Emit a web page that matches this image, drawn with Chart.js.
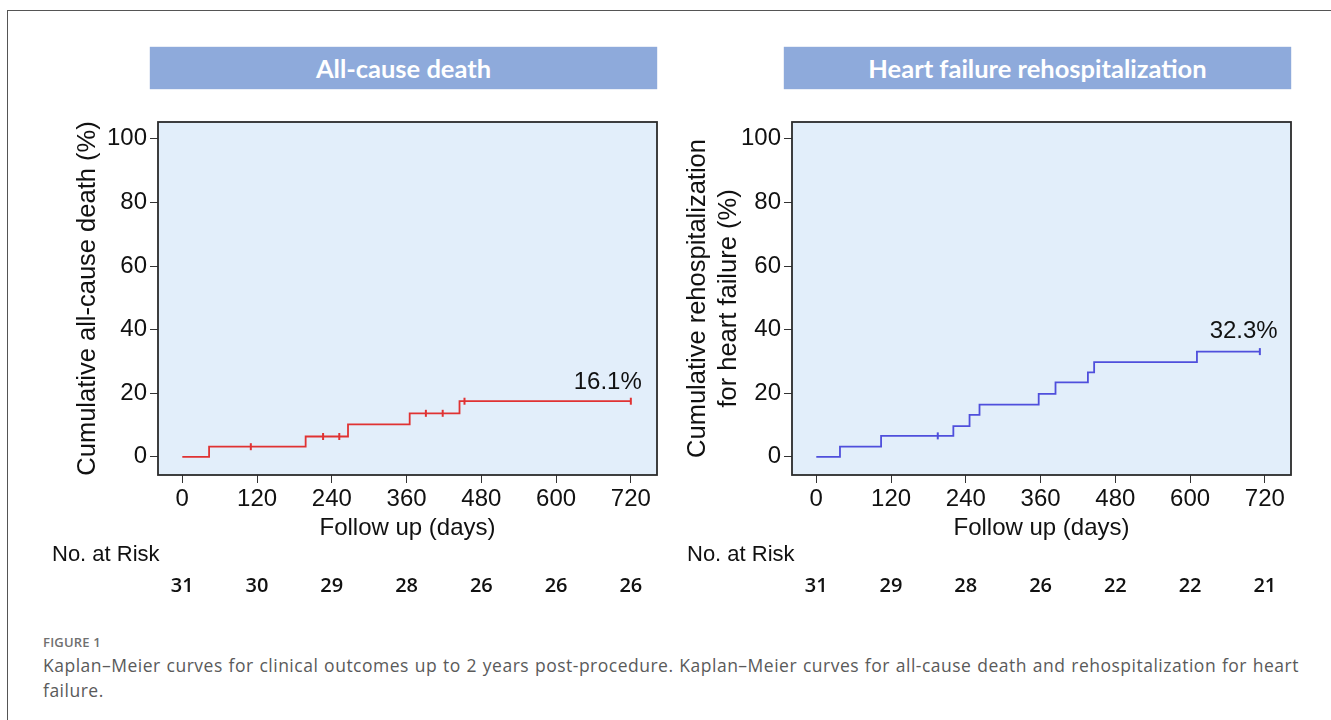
<!DOCTYPE html>
<html>
<head>
<meta charset="utf-8">
<script src="https://cdn.jsdelivr.net/npm/chart.js@4.4.1/dist/chart.umd.min.js"></script>
<style>
  body { margin: 0; width: 1331px; height: 720px; background: #fff; position: relative; overflow: hidden; font-family: "Liberation Sans", Arial, sans-serif; }
  .frame { position: absolute; left: 7px; top: 10px; width: 1400px; height: 800px; border-left: 1px solid #555; border-top: 1px solid #555; }
  .head { position: absolute; top: 47px; height: 42px; width: 507px; background: #8eaadb; color: #fff; font-family: Lato, "Open Sans", sans-serif; font-weight: bold; font-size: 25.5px; line-height: 42px; text-align: center; box-shadow: 0 0 1px #7f9ad0; }
  canvas { position: absolute; }
  .figlab { position: absolute; left: 43px; top: 633px; font-family: "Open Sans", sans-serif; font-size: 13px; font-weight: 600; color: #707070; letter-spacing: 0.2px; }
  .caption { position: absolute; left: 43px; top: 653px; width: 1256px; font-family: "Open Sans", sans-serif; font-size: 17.5px; letter-spacing: 0.5px; line-height: 25px; color: #5a5a5a; text-align: justify; }
</style>
</head>
<body>
<div class="frame"></div>
<div class="head" style="left:150px">All-cause death</div>
<div class="head" style="left:784px">Heart failure rehospitalization</div>
<div style="position:absolute;left:0;top:100px;width:665px;height:520px"><canvas id="c1"></canvas></div>
<div style="position:absolute;left:665px;top:100px;width:666px;height:520px"><canvas id="c2"></canvas></div>
<div class="figlab">FIGURE 1</div>
<div class="caption">Kaplan–Meier curves for clinical outcomes up to 2 years post-procedure. Kaplan–Meier curves for all-cause death and rehospitalization for heart failure.</div>
<script>
// tick labels
const xTicks = [0, 120, 240, 360, 480, 600, 720];
const yTicks = [0, 20, 40, 60, 80, 100];

// all-cause death (days, cumulative %)
const deathDays = [0, 43, 198, 266, 365, 445, 720];
const deathPct = [0, 3.2, 6.4, 10.2, 13.7, 17.5, 17.5];
const deathCensDays = [110, 226, 252, 391, 418, 453, 720];
const deathCensPct = [3.2, 6.4, 6.4, 13.7, 13.7, 17.5, 17.5];
const deathRisk = [31, 30, 29, 28, 26, 26, 26];

// heart failure rehospitalization
const hfDays = [0, 38, 104, 220, 246, 262, 357, 384, 436, 446, 611, 712];
const hfPct = [0, 3.2, 6.6, 9.7, 13.2, 16.4, 19.8, 23.4, 26.6, 29.8, 33.1, 33.1];
const hfCensDays = [195, 712];
const hfCensPct = [6.6, 33.1];
const hfRisk = [31, 29, 28, 26, 22, 22, 21];

const axisFont = { family: '"Liberation Sans", Arial, sans-serif', size: 24 };

function pts(xs, ys) {
    return xs.map((x, i) => ({ x: x, y: ys[i] }));
}

// fond bleu + cadre du graphique
const framePlugin = {
    id: 'frame',
    beforeDraw(chart) {
        const a = chart.chartArea, ctx = chart.ctx;
        ctx.save();
        ctx.fillStyle = '#e2eefa';
        ctx.fillRect(a.left, a.top, a.right - a.left, a.bottom - a.top);
        ctx.restore();
    },
    afterDraw(chart) {
        const a = chart.chartArea, ctx = chart.ctx;
        const o = chart.options.plugins.frame;
        ctx.save();
        ctx.strokeStyle = '#2b2b2b';
        ctx.lineWidth = 1.8;
        ctx.strokeRect(a.left, a.top, a.right - a.left, a.bottom - a.top);
        // No. at Risk
        ctx.fillStyle = '#111';
        ctx.font = '22px "Liberation Sans", Arial, sans-serif';
        ctx.textAlign = 'left';
        ctx.textBaseline = 'middle';
        ctx.fillText('No. at Risk', o.riskX, o.riskY);
        ctx.font = '600 20px "Open Sans", sans-serif';
        ctx.textAlign = 'center';
        const xs = chart.scales.x;
        o.risk.forEach((n, i) => {
            ctx.fillText(String(n), xs.getPixelForValue(xTicks[i]), o.riskY + 31);
        });
        // final percentage
        ctx.font = '24px "Liberation Sans", Arial, sans-serif';
        ctx.fillText(o.label, xs.getPixelForValue(o.labelAt[0]), chart.scales.y.getPixelForValue(o.labelAt[1]));
        ctx.restore();
    }
};

function createChart(id, opts) {
    const ctx = document.getElementById(id).getContext('2d');
    return new Chart(ctx, {
        type: 'line',
        data: {
            datasets: [{
                data: pts(opts.days, opts.pct),
                borderColor: opts.color,
                borderWidth: 1.8,
                stepped: 'before',
                pointRadius: 0,
                fill: false
            }, {
                data: pts(opts.censDays, opts.censPct),
                showLine: false,
                borderColor: opts.color,
                backgroundColor: opts.color,
                pointStyle: 'line',
                rotation: 90,
                pointRadius: 3.5,
                pointBorderWidth: 2
            }]
        },
        options: {
            responsive: true,
            maintainAspectRatio: false,
            animation: false,
            events: [],
            layout: { padding: { left: opts.padLeft, right: opts.padRight, top: 22, bottom: 77 } },
            scales: {
                x: {
                    type: 'linear',
                    min: -39,
                    max: 762,
                    afterBuildTicks: s => { s.ticks = xTicks.map(v => ({ value: v })); },
                    afterFit: s => { s.height = 68; },
                    grid: { drawOnChartArea: false, drawTicks: true, tickLength: 8, color: '#333', tickWidth: 1 },
                    border: { display: false },
                    ticks: { font: axisFont, color: '#111', padding: 2, maxRotation: 0 },
                    title: { display: true, text: 'Follow up (days)', font: axisFont, color: '#111', padding: 0 }
                },
                y: {
                    min: -5.7,
                    max: 105.3,
                    afterBuildTicks: s => { s.ticks = yTicks.map(v => ({ value: v })); },
                    afterFit: s => { s.width = opts.yWidth; },
                    grid: { drawOnChartArea: false, drawTicks: true, tickLength: 8, color: '#333', tickWidth: 1 },
                    border: { display: false },
                    ticks: { font: axisFont, color: '#111', padding: 3 },
                    title: { display: true, text: opts.yTitle, font: { family: axisFont.family, size: 25.5, lineHeight: 1.2 }, color: '#111', padding: { top: opts.titlePad, bottom: 0 } }
                }
            },
            plugins: {
                legend: { display: false },
                tooltip: { enabled: false },
                frame: { risk: opts.risk, riskX: opts.riskX, riskY: 455, label: opts.label, labelAt: opts.labelAt }
            }
        },
        plugins: [framePlugin]
    });
}

window.onload = function () {
    createChart('c1', {
        days: deathDays, pct: deathPct, censDays: deathCensDays, censPct: deathCensPct,
        color: '#e03232', risk: deathRisk, riskX: 52, label: '16.1%', labelAt: [683, 23.3],
        yTitle: 'Cumulative all-cause death (%)', padLeft: 60, padRight: 8, yWidth: 98, titlePad: 13
    });
    createChart('c2', {
        days: hfDays, pct: hfPct, censDays: hfCensDays, censPct: hfCensPct,
        color: '#4f4fdc', risk: hfRisk, riskX: 22, label: '32.3%', labelAt: [686, 39.6],
        yTitle: ['Cumulative rehospitalization', 'for heart failure (%)'], padLeft: 4, padRight: 40, yWidth: 123, titlePad: 14
    });
};
</script>
</body>
</html>
